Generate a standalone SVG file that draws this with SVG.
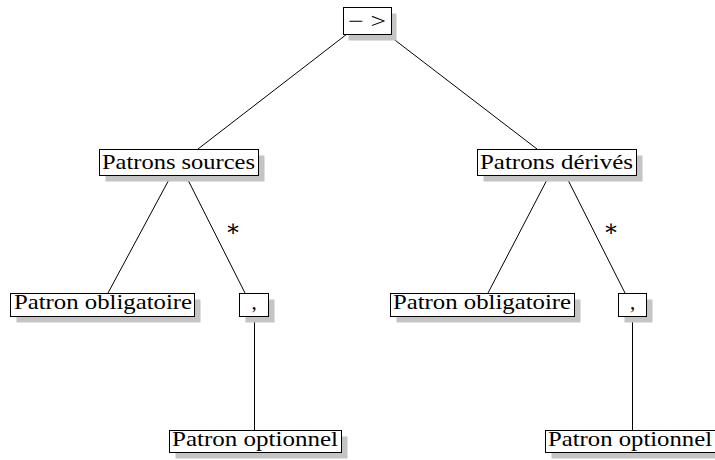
<svg xmlns="http://www.w3.org/2000/svg" width="715" height="460" viewBox="0 0 715 460">
  <style>
    .shadow { fill: #c4c4c4; stroke: none; }
    .box { fill: #ffffff; stroke: #000000; stroke-width: 1; }
    .lbl { font-family: "Liberation Serif", "DejaVu Serif", serif; font-size: 21px; fill: #000000; }
    .edge { stroke: #000000; stroke-width: 1; fill: none; }
    .star { font-family: "DejaVu Serif", serif; font-size: 23px; fill: #000000; text-anchor: middle; }
  </style>

  <g id="connectors">
    <line class="edge" x1="347" y1="34" x2="198" y2="149"/>
    <line class="edge" x1="387" y1="34" x2="537" y2="149"/>
    <line class="edge" x1="172" y1="174" x2="108" y2="293"/>
    <line class="edge" x1="185" y1="174" x2="245" y2="293"/>
    <line class="edge" x1="550" y1="174" x2="488" y2="293"/>
    <line class="edge" x1="565" y1="174" x2="625" y2="293"/>
    <line class="edge" x1="254.5" y1="316" x2="254.5" y2="430"/>
    <line class="edge" x1="632.5" y1="316" x2="632.5" y2="430"/>
    <text class="star" x="233" y="236">∗</text>
    <text class="star" x="611" y="236">∗</text>
  </g>

  <g id="root">
    <rect class="shadow" x="348.5" y="13.5" width="48" height="27"/>
    <rect class="box" x="343.5" y="7.5" width="48" height="27"/>
    <text class="lbl" x="348" y="28" textLength="38" lengthAdjust="spacingAndGlyphs">− &gt;</text>
  </g>

  <g id="patrons-sources">
    <rect class="shadow" x="105.5" y="155.5" width="159" height="26"/>
    <rect class="box" x="99.5" y="149.5" width="159" height="26"/>
    <text class="lbl" x="102" y="169" textLength="153" lengthAdjust="spacingAndGlyphs">Patrons sources</text>
  </g>

  <g id="patrons-derives">
    <rect class="shadow" x="483.5" y="155.5" width="159" height="26"/>
    <rect class="box" x="477.5" y="149.5" width="159" height="26"/>
    <text class="lbl" x="480" y="169" textLength="153" lengthAdjust="spacingAndGlyphs">Patrons dérivés</text>
  </g>

  <g id="obligatoire-sources">
    <rect class="shadow" x="16.5" y="299.5" width="184" height="23"/>
    <rect class="box" x="10.5" y="293.5" width="184" height="23"/>
    <text class="lbl" x="14" y="309" textLength="178" lengthAdjust="spacingAndGlyphs">Patron obligatoire</text>
  </g>

  <g id="virgule-sources">
    <rect class="shadow" x="245.5" y="299.5" width="29" height="23"/>
    <rect class="box" x="239.5" y="293.5" width="29" height="23"/>
    <text class="lbl" x="254" y="309" text-anchor="middle">,</text>
  </g>

  <g id="obligatoire-derives">
    <rect class="shadow" x="396.5" y="299.5" width="184" height="23"/>
    <rect class="box" x="390.5" y="293.5" width="184" height="23"/>
    <text class="lbl" x="393" y="309" textLength="178" lengthAdjust="spacingAndGlyphs">Patron obligatoire</text>
  </g>

  <g id="virgule-derives">
    <rect class="shadow" x="624.5" y="299.5" width="28" height="23"/>
    <rect class="box" x="618.5" y="293.5" width="28" height="23"/>
    <text class="lbl" x="632.5" y="309" text-anchor="middle">,</text>
  </g>

  <g id="optionnel-sources">
    <rect class="shadow" x="175.5" y="436.5" width="172" height="22"/>
    <rect class="box" x="169.5" y="430.5" width="172" height="22"/>
    <text class="lbl" x="172" y="446" textLength="166" lengthAdjust="spacingAndGlyphs">Patron optionnel</text>
  </g>

  <g id="optionnel-derives">
    <rect class="shadow" x="551.5" y="436.5" width="172" height="22"/>
    <rect class="box" x="545.5" y="430.5" width="172" height="22"/>
    <text class="lbl" x="548" y="446" textLength="164" lengthAdjust="spacingAndGlyphs">Patron optionnel</text>
  </g>
</svg>
